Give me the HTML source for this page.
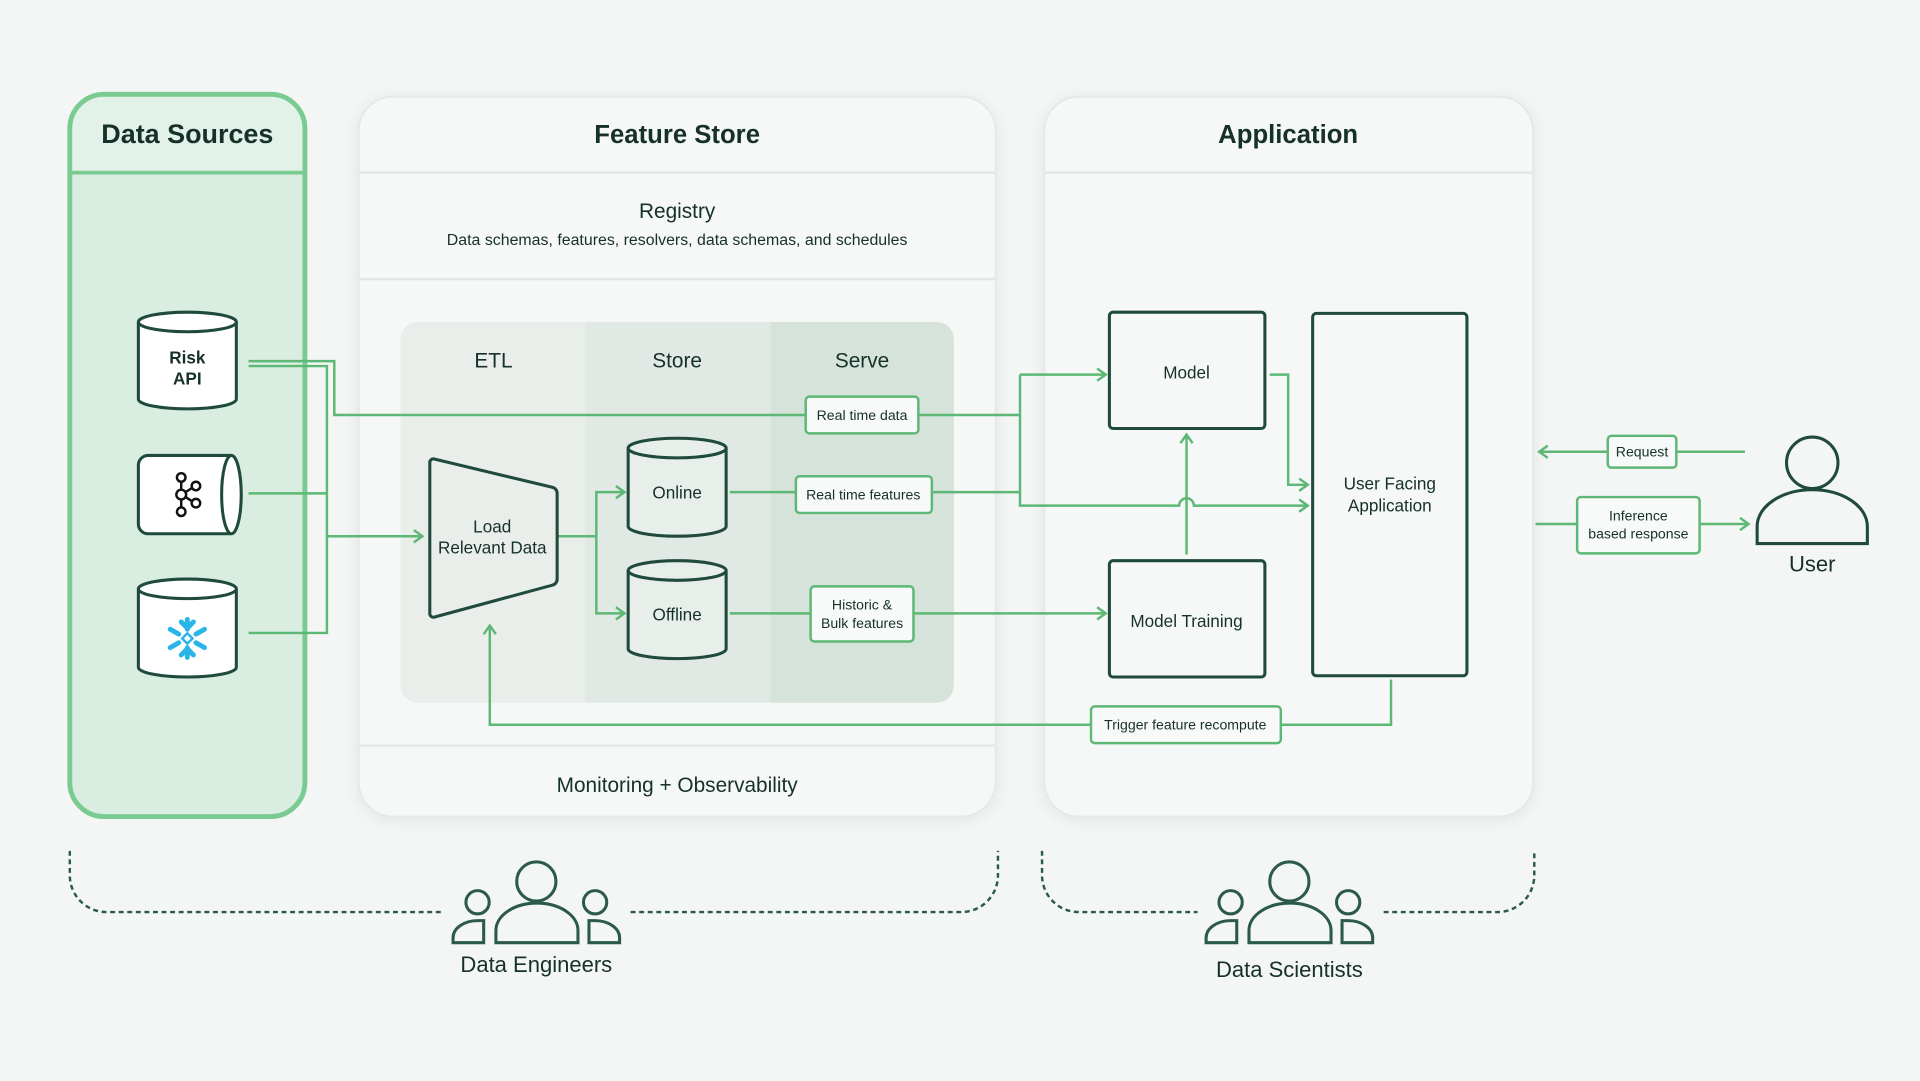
<!DOCTYPE html>
<html><head><meta charset="utf-8"><style>
html,body{margin:0;padding:0;background:#f3f6f4;}
svg{display:block}
text{font-family:"Liberation Sans",sans-serif;}
</style></head><body>
<svg width="1920" height="1081" viewBox="0 0 1568 883" preserveAspectRatio="none" xmlns="http://www.w3.org/2000/svg">
<defs>
<filter id="sh" x="-10%" y="-10%" width="120%" height="120%"><feDropShadow dx="0" dy="2" stdDeviation="6" flood-color="#000" flood-opacity="0.07"/></filter>
<marker id="ar" viewBox="0 0 12 12" refX="10" refY="6" markerWidth="12" markerHeight="12" markerUnits="userSpaceOnUse" orient="auto"><path d="M3,1 L10,6 L3,11" fill="none" stroke="#5cb874" stroke-width="2"/></marker>
</defs>
<rect width="1568" height="883" fill="#f3f6f4"/>

<!-- Data Sources -->
<path d="M57,141 V105 a28,28 0 0 1 28,-28 H221 a28,28 0 0 1 28,28 V141 Z" fill="#e3f2e8"/>
<rect x="57" y="77" width="192" height="590" rx="28" fill="#d9ede0" fill-opacity="0" stroke="none"/>
<path d="M57,141 H249 V639 a28,28 0 0 1 -28,28 H85 a28,28 0 0 1 -28,-28 Z" fill="#d9ede0"/>
<rect x="57" y="77" width="192" height="590" rx="28" fill="none" stroke="#7acb92" stroke-width="4"/>
<line x1="57" y1="141" x2="249" y2="141" stroke="#7acb92" stroke-width="3"/>
<text x="153" y="117" text-anchor="middle" font-size="22" font-weight="bold" fill="#16302a">Data Sources</text>

<!-- Feature Store -->
<rect x="293" y="79" width="520" height="588" rx="28" fill="#f6f8f7" stroke="#e4e8e6" stroke-width="1.5" filter="url(#sh)"/>
<line x1="293" y1="141" x2="813" y2="141" stroke="#e3e7e5" stroke-width="2"/>
<line x1="293" y1="228" x2="813" y2="228" stroke="#e3e7e5" stroke-width="2"/>
<line x1="293" y1="609" x2="813" y2="609" stroke="#e3e7e5" stroke-width="2"/>
<text x="553" y="117" text-anchor="middle" font-size="21" font-weight="bold" fill="#16302a">Feature Store</text>
<text x="553" y="178" text-anchor="middle" font-size="17" fill="#16302a">Registry</text>
<text x="553" y="200" text-anchor="middle" font-size="13" fill="#16302a">Data schemas, features, resolvers, data schemas, and schedules</text>
<text x="553" y="647" text-anchor="middle" font-size="17" fill="#16302a">Monitoring + Observability</text>

<!-- inner panel -->
<path d="M341,263 H478 V574 H341 a14,14 0 0 1 -14,-14 V277 a14,14 0 0 1 14,-14 Z" fill="#e9eeeb"/>
<rect x="478" y="263" width="151" height="311" fill="#e1e9e4"/>
<path d="M629,263 H765 a14,14 0 0 1 14,14 V560 a14,14 0 0 1 -14,14 H629 Z" fill="#d6e3da"/>
<text x="403" y="300" text-anchor="middle" font-size="17" fill="#16302a">ETL</text>
<text x="553" y="300" text-anchor="middle" font-size="17" fill="#16302a">Store</text>
<text x="704" y="300" text-anchor="middle" font-size="17" fill="#16302a">Serve</text>

<!-- Application -->
<rect x="853" y="79" width="399" height="588" rx="28" fill="#f6f8f7" stroke="#e4e8e6" stroke-width="1.5" filter="url(#sh)"/>
<line x1="853" y1="141" x2="1252" y2="141" stroke="#e3e7e5" stroke-width="2"/>
<text x="1052" y="117" text-anchor="middle" font-size="21" font-weight="bold" fill="#16302a">Application</text>

<!-- connectors -->
<g fill="none" stroke="#5cb874" stroke-width="2">
<path d="M203,295 H273 V339 H833"/>
<path d="M203,299 H267 V517 H203"/>
<path d="M203,403 H267"/>
<path d="M267,438 H345" marker-end="url(#ar)"/>
<path d="M833,306 H903" marker-end="url(#ar)"/>
<path d="M833,306 V413 H963 a6,6 0 0 1 12,0 H1068" marker-end="url(#ar)"/>
<path d="M455,438 H487 V402 H510" marker-end="url(#ar)"/>
<path d="M487,438 V501 H510" marker-end="url(#ar)"/>
<path d="M596,402 H833"/>
<path d="M596,501 H903" marker-end="url(#ar)"/>
<path d="M1037,306 H1052 V396 H1068" marker-end="url(#ar)"/>
<path d="M969,453 V355" marker-end="url(#ar)"/>
<path d="M1136,555 V592 H400 V511" marker-end="url(#ar)"/>
<path d="M1425,369 H1257" marker-end="url(#ar)"/>
<path d="M1254,428 H1428" marker-end="url(#ar)"/>
</g>

<!-- labels -->
<g fill="#f8faf9" stroke="#5cb874" stroke-width="2">
<rect x="658" y="324" width="92" height="30" rx="3"/>
<rect x="650" y="389" width="111" height="30" rx="3"/>
<rect x="662" y="479" width="84" height="45" rx="3"/>
<rect x="891" y="577" width="155" height="30" rx="3"/>
<rect x="1313" y="356" width="56" height="26" rx="3"/>
<rect x="1288" y="406" width="100" height="46" rx="3"/>
</g>
<g font-size="11.5" fill="#16302a" text-anchor="middle">
<text x="704" y="343">Real time data</text>
<text x="705" y="408">Real time features</text>
<text x="704" y="498">Historic &amp;</text>
<text x="704" y="513">Bulk features</text>
<text x="968" y="596">Trigger feature recompute</text>
<text x="1341" y="373">Request</text>
<text x="1338" y="425">Inference</text>
<text x="1338" y="440">based response</text>
</g>

<!-- cylinders -->
<g fill="#fff" stroke="#1f4a3c" stroke-width="2.5">
<path d="M113,263 V326 a40,8 0 0 0 80,0 V263"/>
<ellipse cx="153" cy="263" rx="40" ry="8"/>
<path d="M113,481 V545 a40,8 0 0 0 80,0 V481"/>
<ellipse cx="153" cy="481" rx="40" ry="8"/>
<path d="M189,372 H121 a8,8 0 0 0 -8,8 V428 a8,8 0 0 0 8,8 H189"/>
<ellipse cx="189" cy="404" rx="8" ry="32"/>
</g>
<g fill="#e8efeb" stroke="#1f4a3c" stroke-width="2.5">
<path d="M513,366 V430 a40,8 0 0 0 80,0 V366"/>
<ellipse cx="553" cy="366" rx="40" ry="8"/>
<path d="M513,466 V530 a40,8 0 0 0 80,0 V466"/>
<ellipse cx="553" cy="466" rx="40" ry="8"/>
</g>
<text x="153" y="297" text-anchor="middle" font-size="14" font-weight="bold" fill="#16302a">Risk</text>
<text x="153" y="314" text-anchor="middle" font-size="14" font-weight="bold" fill="#16302a">API</text>
<text x="553" y="407" text-anchor="middle" font-size="14" fill="#16302a">Online</text>
<text x="553" y="507" text-anchor="middle" font-size="14" fill="#16302a">Offline</text>
<!-- kafka icon -->
<g fill="none" stroke="#111" stroke-width="2">
<circle cx="148" cy="390" r="3.5"/><circle cx="148" cy="404" r="4"/><circle cx="148" cy="418" r="3.5"/>
<circle cx="160" cy="397" r="3.5"/><circle cx="160" cy="411" r="3.5"/>
<path d="M148,393.5 V400 M148,408 V414.5 M151.5,402 L157,398.5 M151.5,406 L157,409.5"/>
</g>
<!-- snowflake -->
<g stroke="#29b5e8" stroke-width="4" stroke-linecap="round" fill="none">
<path d="M153,506 V514 M153,529 V537 M139,514 L146,518 M160,525 L167,529 M139,529 L146,525 M160,518 L167,514"/>
<path d="M148,508 L153,513 L158,508 M148,535 L153,530 L158,535"/>
<rect x="150" y="518.5" width="6" height="6" transform="rotate(45 153 521.5)" stroke-width="2"/>
</g>

<!-- trapezoid -->
<path d="M355,375 L451,398 a5,5 0 0 1 4,5 V473 a5,5 0 0 1 -4,5 L355,504 a3,3 0 0 1 -4,-3 V378 a3,3 0 0 1 4,-3 Z" fill="#e9eeeb" stroke="#1f4a3c" stroke-width="2.5"/>
<text x="402" y="435" text-anchor="middle" font-size="14" fill="#16302a">Load</text>
<text x="402" y="452" text-anchor="middle" font-size="14" fill="#16302a">Relevant Data</text>

<!-- app boxes -->
<g fill="#f6f8f7" stroke="#1f4a3c" stroke-width="2.5">
<rect x="906" y="255" width="127" height="95" rx="3"/>
<rect x="906" y="458" width="127" height="95" rx="3"/>
<rect x="1072" y="256" width="126" height="296" rx="3"/>
</g>
<text x="969" y="309" text-anchor="middle" font-size="14" fill="#16302a">Model</text>
<text x="969" y="512" text-anchor="middle" font-size="14" fill="#16302a">Model Training</text>
<text x="1135" y="400" text-anchor="middle" font-size="14" fill="#16302a">User Facing</text>
<text x="1135" y="418" text-anchor="middle" font-size="14" fill="#16302a">Application</text>

<!-- user -->
<g fill="none" stroke="#1f4a3c" stroke-width="2.5">
<circle cx="1480" cy="378" r="21"/>
<path d="M1435,444 V430 a45,30 0 0 1 90,0 V444 Z"/>
</g>
<text x="1480" y="467" text-anchor="middle" font-size="18" fill="#16302a">User</text>

<!-- braces -->
<g fill="none" stroke="#2b5a4a" stroke-width="2" stroke-dasharray="4,3">
<path d="M57,695 V715 a30,30 0 0 0 30,30 H362"/>
<path d="M515,745 H785 a30,30 0 0 0 30,-30 V695"/>
<path d="M851,695 V715 a30,30 0 0 0 30,30 H978"/>
<path d="M1130,745 H1223 a30,30 0 0 0 30,-30 V695"/>
</g>
<!-- people -->
<g fill="none" stroke="#2b5a4a" stroke-width="2.5">
<g id="ppl">
<circle cx="438" cy="720" r="16"/>
<path d="M405,770 V760 a33,22 0 0 1 67,0 V770 Z"/>
<circle cx="390" cy="737" r="9.5"/>
<path d="M395,752 H390 a20,14 0 0 0 -20,14 V770 H395 Z"/>
<circle cx="486" cy="737" r="9.5"/>
<path d="M481,752 H486 a20,14 0 0 1 20,14 V770 H481 Z"/>
</g>
<use href="#ppl" transform="translate(615,0)"/>
</g>
<text x="438" y="794" text-anchor="middle" font-size="18" fill="#16302a">Data Engineers</text>
<text x="1053" y="798" text-anchor="middle" font-size="18" fill="#16302a">Data Scientists</text>
</svg>
</body></html>
